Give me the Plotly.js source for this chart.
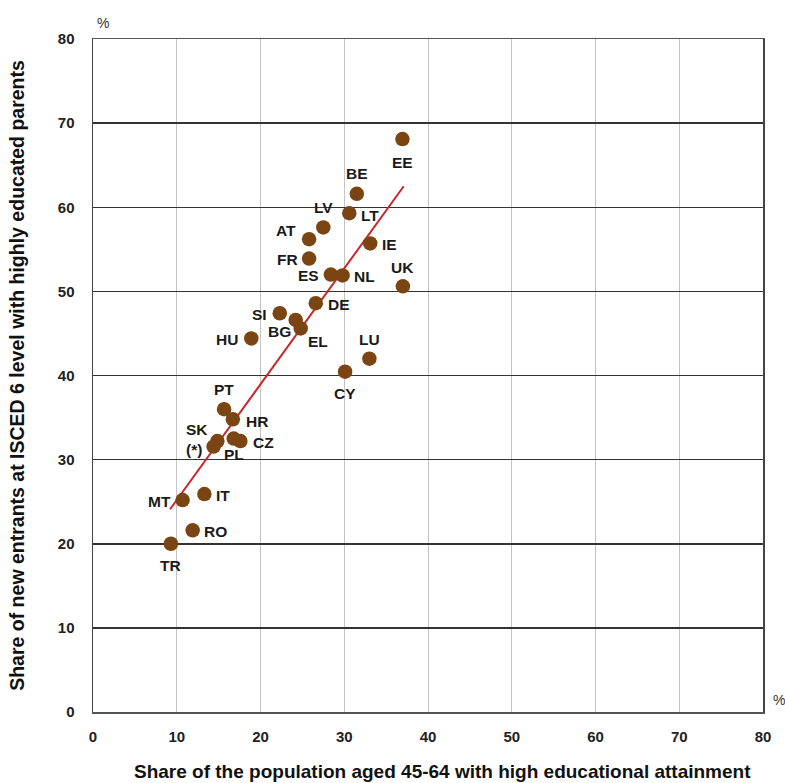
<!DOCTYPE html>
<html>
<head>
<meta charset="utf-8">
<script src="https://cdn.plot.ly/plotly-3.0.1.min.js"></script>
<style>html,body{margin:0;padding:0;background:#fff;}#chart{width:785px;height:783px;}</style>
</head>
<body>
<div id="chart"></div>
<script>
// Data
const countries = ['EE','BE','LT','LV','AT','IE','FR','ES','NL','UK','DE','SI','BG','EL','HU','LU','CY','PT','HR','CZ','PL','SK','SK2','MT','IT','RO','TR'];
const labels    = ['EE','BE','LT','LV','AT','IE','FR','ES','NL','UK','DE','SI','BG','EL','HU','LU','CY','PT','HR','CZ','PL','SK<br>(*)','','MT','IT','RO','TR'];
const popHighEdu = [36.95,31.5,30.6,27.5,25.8,33.1,25.8,28.4,29.8,37.0,26.6,22.3,24.2,24.8,18.9,33.0,30.1,15.65,16.7,17.6,16.8,14.85,14.4,10.7,13.3,11.9,9.3];
const entrantsHighEduParents = [68.1,61.6,59.3,57.6,56.2,55.7,53.9,52.0,51.9,50.6,48.6,47.4,46.6,45.6,44.4,42.0,40.45,36.0,34.8,32.2,32.5,32.2,31.55,25.2,25.9,21.6,20.0];
const trendX = [9.2, 37.1];
const trendY = [24.1, 62.5];
const xTicks = [0,10,20,30,40,50,60,70,80];
const yTicks = [0,10,20,30,40,50,60,70,80];
const xTitle = 'Share of the population aged 45-64 with high educational attainment';
const yTitle = 'Share of new entrants at ISCED 6 level with highly educated parents';

// Label offsets in screen pixels [dx, dy(down)]
const labelOffsets = {
  EE:[0,23], BE:[0,-20], LT:[21,2], LV:[0,-20], AT:[-23,-9], IE:[19,1], FR:[-22,1], ES:[-22,1],
  NL:[22,1], UK:[0,-19], DE:[23,1], SI:[-20,1], BG:[-16,12], EL:[17,13], HU:[-24,1], LU:[0,-19],
  CY:[0,22], PT:[0,-20], HR:[24,2], CZ:[23,1], PL:[0,16], SK:[-20,-2], MT:[-23,1], IT:[19,1],
  RO:[23,1], TR:[0,22]
};

const FONT = 'Liberation Sans, Arial, sans-serif';

const annotations = [];
countries.forEach((c, i) => {
  if (!labels[i]) return;
  const off = labelOffsets[c] || [0,0];
  annotations.push({
    x: popHighEdu[i], y: entrantsHighEduParents[i], xref:'x', yref:'y',
    text: '<b>' + labels[i] + '</b>', showarrow:false,
    xshift: off[0], yshift: -off[1],
    font:{family:FONT, size:15.5, color:'#1a1a1a'}, align:'left'
  });
});
annotations.push({xref:'paper', yref:'paper', x:0, y:1, yanchor:'bottom', xanchor:'left', xshift:2, yshift:6,
  text:'%', showarrow:false, font:{family:FONT, size:14, color:'#333'}});
annotations.push({xref:'paper', yref:'paper', x:1, y:0, xanchor:'left', yanchor:'bottom', xshift:8, yshift:2,
  text:'%', showarrow:false, font:{family:FONT, size:14, color:'#333'}});
annotations.push({xref:'paper', yref:'paper', x:0.5, y:0, xanchor:'center', yanchor:'middle', xshift:14, yshift:-59,
  text:'<b>' + xTitle + '</b>', showarrow:false, font:{family:FONT, size:19, color:'#111'}});

const data = [
  {x: trendX, y: trendY, type:'scatter', mode:'lines', line:{color:'#c8262b', width:2}, hoverinfo:'skip'},
  {x: popHighEdu, y: entrantsHighEduParents, type:'scatter', mode:'markers',
   marker:{size:14.5, color:'#7a4512', line:{width:0}}, text: countries}
];

const layout = {
  width:785, height:783,
  margin:{l:93, r:22, t:39, b:71},
  paper_bgcolor:'#fff', plot_bgcolor:'#fff',
  showlegend:false,
  xaxis:{range:[0,80], tickvals:xTicks, ticktext:xTicks.map(String), showgrid:true, gridcolor:'#c4c4c4', gridwidth:1,
    zeroline:false, showline:true, linecolor:'#555', linewidth:1.5, mirror:true, ticks:'', ticklabelstandoff:10,
    tickfont:{family:FONT, size:15, color:'#222', weight:'bold'}},
  yaxis:{range:[0,80], tickvals:yTicks, ticktext:yTicks.map(String), showgrid:true, gridcolor:'#333', gridwidth:1.5,
    zeroline:false, showline:true, linecolor:'#444', linewidth:1.5, mirror:true, ticks:'', ticklabelstandoff:14,
    tickfont:{family:FONT, size:15, color:'#222', weight:'bold'},
    title:{text:'<b>' + yTitle + '</b>', standoff:28,
      font:{family:FONT, size:19.5, color:'#111'}}},
  annotations: annotations
};

Plotly.newPlot('chart', data, layout, {displayModeBar:false, staticPlot:true});
</script>
</body>
</html>
